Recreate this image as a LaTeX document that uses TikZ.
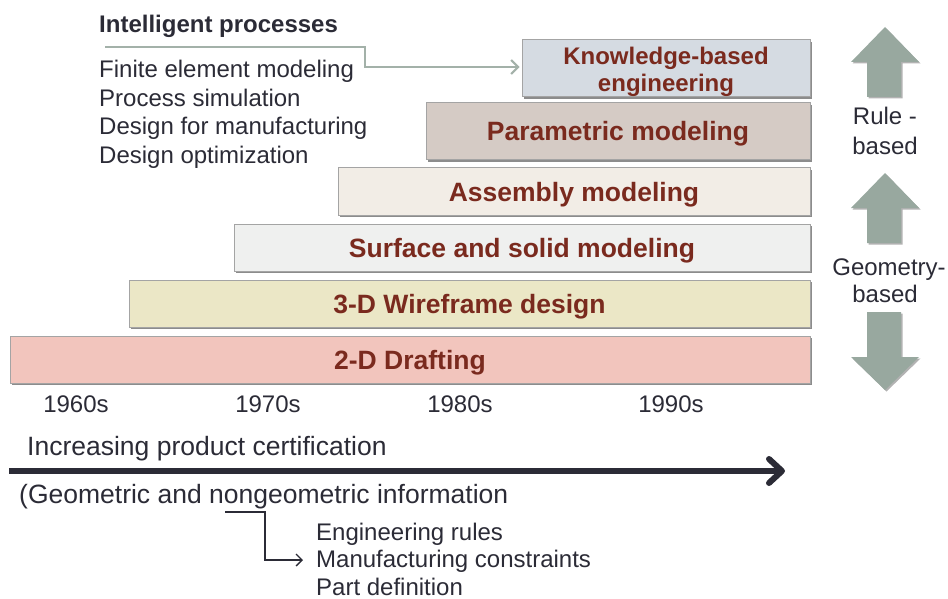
\documentclass[tikz,border=0pt]{standalone}
\usepackage{fontspec}
\setmainfont{Liberation Sans}
\usetikzlibrary{shadows,arrows.meta}

\definecolor{txt}{HTML}{2B2B36}
\definecolor{lbl}{HTML}{7A2A1E}
\definecolor{edge}{HTML}{A4A4A4}
\definecolor{sage}{HTML}{98A89F}
\definecolor{link}{HTML}{A3B1A9}
\definecolor{kbefill}{HTML}{D5DBE2}
\definecolor{parfill}{HTML}{D5CBC5}
\definecolor{asmfill}{HTML}{F2EDE6}
\definecolor{surffill}{HTML}{EFF0EF}
\definecolor{wirefill}{HTML}{EBE7C6}
\definecolor{draftfill}{HTML}{F2C5BD}

\tikzset{
  era/.style={draw=edge, line width=1pt, inner sep=0pt, text=lbl,
    font=\fontsize{26.5}{27}\selectfont\bfseries, align=center,
    drop shadow={shadow xshift=2pt, shadow yshift=-2pt, fill=black, opacity=0.45}},
  oneline/.style={text height=19pt, text depth=0pt},
  eralabel/.style={inner sep=0pt, text=lbl, align=center,
    font=\fontsize{24}{27}\selectfont\bfseries},
  plain/.style={text=txt, inner sep=0pt, font=\fontsize{24}{28}\selectfont},
  big/.style={text=txt, inner sep=0pt, font=\fontsize{26.5}{30}\selectfont},
  blockarrow/.style={fill=sage, draw=none,
    drop shadow={shadow xshift=1.5pt, shadow yshift=-1.5pt, fill=black, opacity=0.3}},
}

\begin{document}
\begin{tikzpicture}[x=1pt,y=-1pt]
\useasboundingbox (0,0) rectangle (948,599);

% stacked technology bands
\node[era, fill=kbefill, minimum width=288, minimum height=57] (kbe) at (666,68.5) {};
\node[eralabel] (kbetext) at ([yshift=-3pt]kbe.center) {Knowledge-based\\engineering};
\node[era, oneline, fill=parfill, minimum width=384, minimum height=57] (par) at (618,131.5) {Parametric modeling};
\node[era, oneline, fill=asmfill, minimum width=472, minimum height=47] (asm) at (574,191.5) {Assembly modeling};
\node[era, oneline, fill=surffill, minimum width=576, minimum height=47] (surf) at (522,247.5) {Surface and solid modeling};
\node[era, oneline, fill=wirefill, minimum width=681, minimum height=47] (wire) at (469.5,303.5) {3-D Wireframe design};
\node[era, oneline, fill=draftfill, minimum width=800, minimum height=47] (draft) at (410,359.5) {2-D Drafting};

% decades
\node[plain, anchor=base] (d60) at (76,412) {1960s};
\node[plain, anchor=base] (d70) at (268,412) {1970s};
\node[plain, anchor=base] (d80) at (460,412) {1980s};
\node[plain, anchor=base] (d90) at (671,412) {1990s};

% intelligent processes list
\node[plain, anchor=base west, font=\fontsize{24}{28}\selectfont\bfseries] (ip) at (99,33) {Intelligent processes};
\node[plain, anchor=base west] (fem) at (99,78) {Finite element modeling};
\node[plain, anchor=base west] (ps) at (99,107) {Process simulation};
\node[plain, anchor=base west] (dfm) at (99,135) {Design for manufacturing};
\node[plain, anchor=base west] (dopt) at (99,164) {Design optimization};

\coordinate (ipstart) at (105,47);
\draw[link, line width=2pt, -{Straight Barb[length=7pt,width=14pt,line width=2pt]}]
  (ipstart) -- (365,47) -- (365,67) -- ([xshift=-2pt]kbe.west |- 0,67);

% certification axis
\node[big, anchor=base west] (inc) at (27,455) {Increasing product certification};
\coordinate (axstart) at (9,471);
\coordinate (axend) at (785,471);
\draw[txt, line width=6pt, -{Straight Barb[length=13pt,width=24pt,line width=6pt,round]}]
  (axstart) -- (axend);
\node[big, anchor=base west] (geo) at (19,503) {(Geometric and nongeometric information};

\node[plain, anchor=base west] (er) at (316,540) {Engineering rules};
\node[plain, anchor=base west] (mc) at (316,567) {Manufacturing constraints};
\node[plain, anchor=base west] (pd) at (316,595) {Part definition};

\coordinate (geoknee) at (225,512);
\draw[txt, line width=1.3pt, -{Straight Barb[length=6pt,width=12pt,line width=1.3pt]}]
  (geoknee) -- (265,512) -- (265,560) -- ([xshift=-13pt]mc.west |- 0,560);

% rule-based / geometry-based arrows
\path[blockarrow] (867,97) -- (867,62) -- (851,62) -- (885,27) -- (919,62) -- (901,62) -- (901,97) -- cycle;
\node[plain, anchor=base] (rb1) at (885,125) {Rule -};
\node[plain, anchor=base] (rb2) at (885,154) {based};
\path[blockarrow] (867,243) -- (867,208) -- (851,208) -- (885,173) -- (919,208) -- (901,208) -- (901,243) -- cycle;
\node[plain, anchor=base] (gb1) at (889,275) {Geometry-};
\node[plain, anchor=base] (gb2) at (885,302) {based};
\path[blockarrow] (867,312) -- (867,357) -- (851,357) -- (885,390) -- (919,357) -- (901,357) -- (901,312) -- cycle;
\end{tikzpicture}
\end{document}
